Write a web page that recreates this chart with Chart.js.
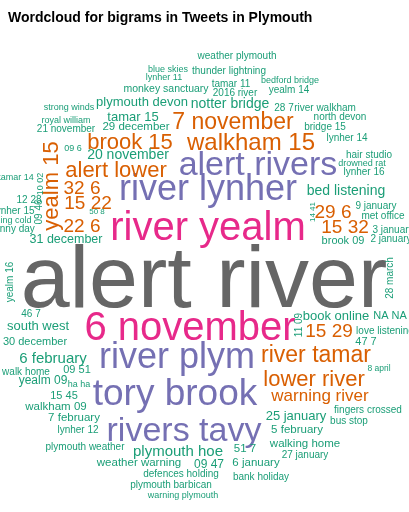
<!DOCTYPE html>
<html>
<head>
<meta charset="utf-8">
<script src="https://cdn.jsdelivr.net/npm/chart.js@4.4.1/dist/chart.umd.min.js"></script>
<style>
  html, body { margin: 0; padding: 0; background: #fff; }
  #wrap { width: 409px; height: 512px; }
</style>
</head>
<body>
<div id="wrap"><canvas id="cloud"></canvas></div>
<script>

// bigrams, where they sit in the cloud, and how often they appear
var words = [
  "alert river", "river yealm", "6 november", "river lynher", "alert rivers",
  "river plym", "tory brook", "rivers tavy",
  "7 november", "walkham 15", "brook 15", "alert lower", "yealm 15",
  "32 6", "15 22", "22 6", "29 6", "15 32", "15 29",
  "river tamar", "lower river", "warning river",
  "weather plymouth", "blue skies", "thunder lightning", "lynher 11", "bedford bridge",
  "tamar 11", "monkey sanctuary", "2016 river", "yealm 14", "plymouth devon",
  "notter bridge", "strong winds", "28 7", "river walkham", "north devon",
  "tamar 15", "royal william", "bridge 15", "21 november", "29 december",
  "lynher 14", "09 6", "20 november", "hair studio", "drowned rat",
  "lynher 16", "tamar 14", "10 02", "12 28", "lynher 15",
  "09 46", "freezing cold", "sunny day", "50 8", "31 december",
  "bed listening", "14 41", "9 january", "met office", "3 january",
  "2 january", "brook 09", "28 march", "yealm 16", "46 7",
  "south west", "30 december", "6 february", "09 51", "walk home",
  "yealm 09", "ha ha", "15 45", "walkham 09", "7 february",
  "lynher 12", "plymouth weather", "plymouth hoe", "weather warning", "09 47",
  "defences holding", "plymouth barbican", "warning plymouth", "51 7", "6 january",
  "bank holiday", "25 january", "fingers crossed", "bus stop", "5 february",
  "walking home", "27 january", "8 april", "book online", "NA NA",
  "11 09", "love listening", "47 7"
];

var xs = [
  204, 208, 190, 208, 258,
  177, 175, 184,
  233, 251, 130, 116, 58,
  82, 88, 82, 333, 345, 329,
  316, 314, 320,
  237, 168, 229, 164, 290,
  231, 166, 235, 289, 142,
  230, 69, 284, 325, 340,
  133, 66, 325, 66, 136,
  347, 73, 128, 369, 362,
  364, 16, 43, 29, 14,
  42, 6, 12, 97, 66,
  346, 315, 376, 383, 393,
  391, 343, 393, 13, 31,
  38, 35, 53, 77, 26,
  43, 79, 64, 56, 74,
  78, 85, 178, 139, 209,
  181, 171, 183, 245, 256,
  261, 296, 368, 349, 297,
  305, 305, 379, 336, 390,
  302, 385, 366
];

var ys = [
  307, 240, 340, 200, 175,
  368, 405, 441,
  129, 150, 149, 177, 186,
  194, 209, 232, 218, 233, 337,
  362, 386, 401,
  59, 72, 74, 80, 83,
  87, 92, 96, 93, 106,
  108, 110, 111, 111, 120,
  121, 123, 130, 132, 130,
  141, 151, 159, 158, 166,
  175, 180, 184, 203, 214,
  212, 223, 232, 214, 243,
  195, 212, 209, 219, 233,
  242, 244, 278, 282, 317,
  330, 345, 363, 373, 375,
  384, 387, 399, 410, 421,
  433, 450, 456, 466, 468,
  477, 488, 498, 452, 466,
  480, 420, 413, 424, 433,
  447, 458, 371, 320, 319,
  325, 334, 345
];

var freq = [
  88, 40, 40, 36, 34,
  36, 37, 34,
  23, 24, 22, 22, 22,
  19, 19, 19, 19, 19, 19,
  23, 22, 17,
  10, 9, 10, 9, 9,
  10, 10.5, 10, 10, 13,
  14, 9, 10, 10, 10,
  13, 9, 10, 10, 11.5,
  10, 9, 14, 10, 9,
  10, 9, 9, 10, 10,
  10, 9, 10, 8, 12.5,
  14, 8, 10, 10, 10,
  10, 11, 10, 10, 10,
  13, 11, 15, 11, 10,
  12, 9, 11, 11.5, 11.5,
  10, 10, 15, 11.5, 12,
  10, 10, 9, 11.5, 11.5,
  10, 13, 10, 10, 11.5,
  11.5, 10, 8.5, 13, 11,
  10, 10, 11
];

// these ones are laid out reading bottom to top
var rotated = ["yealm 15", "10 02", "09 46", "14 41", "28 march", "yealm 16", "11 09"];

var fontFamily = '"Liberation Sans", Arial, Helvetica, sans-serif';

// Dark2 colours, banded by frequency like the R wordcloud
var colourFor = function (f) {
  if (f >= 80) return "#666666";
  if (f >= 38) return "#E7298A";
  if (f >= 30) return "#7570B3";
  if (f >= 16) return "#D95F02";
  return "#1B9E77";
};

var wordLabels = {
  id: 'wordLabels',
  afterDatasetsDraw: function (chart) {
    var ctx = chart.ctx;
    var meta = chart.getDatasetMeta(0);
    meta.data.forEach(function (pt, i) {
      ctx.save();
      ctx.font = freq[i] + 'px ' + fontFamily;
      ctx.fillStyle = colourFor(freq[i]);
      ctx.textAlign = 'center';
      ctx.textBaseline = 'alphabetic';
      ctx.translate(pt.x, pt.y);
      if (rotated.indexOf(words[i]) > -1) {
        ctx.rotate(-Math.PI / 2);
      }
      ctx.fillText(words[i], 0, 0);
      ctx.restore();
    });
  }
};

var points = xs.map(function (x, i) {
  return { x: x, y: ys[i] };
});

var titleSize = 14;
var titlePad = { top: 10, bottom: 4 };
var titleHeight = titleSize * 1.2 + titlePad.top + titlePad.bottom;

new Chart(document.getElementById("cloud"), {
  type: 'scatter',
  data: {
    datasets: [{
      data: points,
      pointRadius: 0,
      pointHoverRadius: 0,
      clip: false
    }]
  },
  options: {
    responsive: true,
    maintainAspectRatio: false,
    animation: false,
    layout: { padding: { left: 8, top: 0, right: 0, bottom: 0 } },
    plugins: {
      legend: { display: false },
      tooltip: { enabled: false },
      title: {
        display: true,
        text: 'Wordcloud for bigrams in Tweets in Plymouth',
        align: 'start',
        color: '#000',
        font: { size: titleSize, weight: 'bold', family: fontFamily },
        padding: titlePad
      }
    },
    scales: {
      x: { type: 'linear', min: 8, max: 409, display: false },
      y: { type: 'linear', min: titleHeight, max: 512, reverse: true, display: false }
    }
  },
  plugins: [wordLabels]
});
</script>
</body>
</html>
